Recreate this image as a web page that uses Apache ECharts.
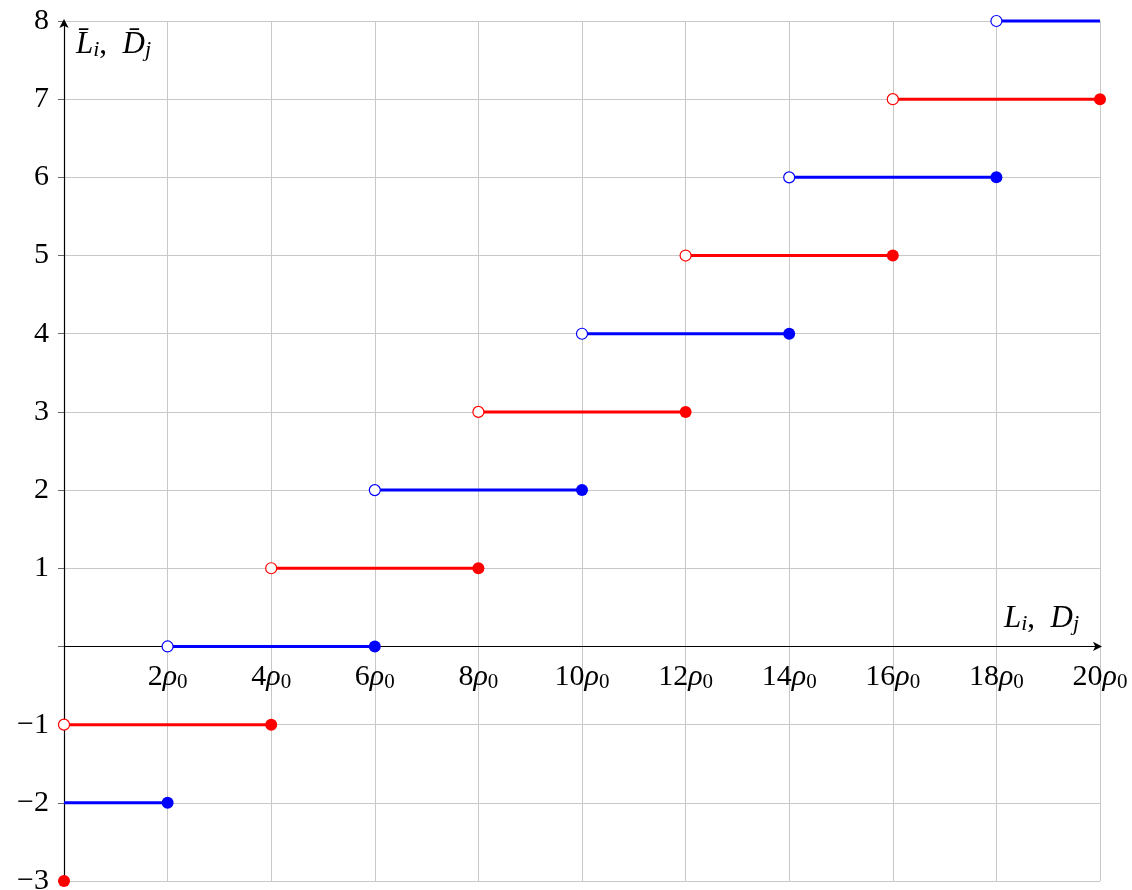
<!DOCTYPE html>
<html>
<head>
<meta charset="utf-8">
<script src="https://cdn.jsdelivr.net/npm/echarts@6/dist/echarts.min.js"></script>
<style>
  html, body { margin: 0; padding: 0; background: #fff; }
  #chart { width: 1132px; height: 890px; }
</style>
</head>
<body>
<div id="chart"></div>
<script>
// 数据：水平线段（红 / 蓝），端点
var redLevels = [-1, 1, 3, 5, 7];
var redFrom = [0, 4, 8, 12, 16];
var redTo = [4, 8, 12, 16, 20];
var blueLevels = [-2, 0, 2, 4, 6, 8];
var blueFrom = [0, 2, 6, 10, 14, 18];
var blueTo = [2, 6, 10, 14, 18, 20];
var redOpen = [[0, -1], [4, 1], [8, 3], [12, 5], [16, 7]];
var redClosed = [[0, -3], [4, -1], [8, 1], [12, 3], [16, 5], [20, 7]];
var blueOpen = [[2, 0], [6, 2], [10, 4], [14, 6], [18, 8]];
var blueClosed = [[2, -2], [6, 0], [10, 2], [14, 4], [18, 6]];
var xTicks = [2, 4, 6, 8, 10, 12, 14, 16, 18, 20];

var RED = "#ff0000";
var BLUE = "#0000ff";
var FONT = "Liberation Serif";

function segSeries(levels, from, to, color) {
    var out = [];
    for (var i = 0; i < levels.length; i++) {
        out.push({
            type: "line",
            data: [[from[i], levels[i]], [to[i], levels[i]]],
            symbol: "none",
            clip: false,
            lineStyle: { color: color, width: 3 },
            z: 3
        });
    }
    return out;
}

function dots(data, color, open) {
    return {
        type: "scatter",
        data: data,
        symbol: "circle",
        symbolSize: open ? 11 : 12,
        clip: false,
        itemStyle: open
            ? { color: "#fff", borderColor: color, borderWidth: 1.2, opacity: 1 }
            : { color: color, opacity: 1 },
        z: 5
    };
}

var series = []
    .concat(segSeries(redLevels, redFrom, redTo, RED))
    .concat(segSeries(blueLevels, blueFrom, blueTo, BLUE));
series.push(dots(redOpen, RED, true));
series.push(dots(redClosed, RED, false));
series.push(dots(blueOpen, BLUE, true));
series.push(dots(blueClosed, BLUE, false));

// x 轴刻度标签（跟随 y=0 的轴线）
series.push({
    type: "scatter",
    data: xTicks.map(function (v) { return [v, 0]; }),
    symbolSize: 0,
    clip: false,
    silent: true,
    z: 6,
    itemStyle: { opacity: 1, color: "#000" },
    label: {
        show: true,
        position: "bottom",
        distance: 14,
        color: "#000",
        opacity: 1,
        formatter: function (p) {
            return "{n|" + p.value[0] + "}{r|ρ}{s|0}";
        },
        rich: {
            n: { fontFamily: FONT, fontSize: 30, color: "#000" },
            r: { fontFamily: FONT, fontSize: 30, fontStyle: "italic", color: "#000" },
            s: { fontFamily: FONT, fontSize: 21, color: "#000", padding: [12, 0, 0, 0] }
        }
    }
});

var myChart = echarts.init(document.getElementById("chart"));
var option = {
    animation: false,
    grid: { left: 64, right: 32, top: 21, bottom: 9, outerBoundsMode: "none" },
    xAxis: {
        type: "value",
        min: 0,
        max: 20,
        interval: 2,
        axisLine: {
            onZero: true,
            lineStyle: { color: "#000", width: 1.2 },
            symbol: ["none", "arrow"],
            symbolSize: [7, 9],
            symbolOffset: [0, 2]
        },
        axisTick: { show: false },
        splitLine: { show: true, lineStyle: { color: "#c8c8c8", width: 1 } },
        axisLabel: { show: false }
    },
    yAxis: {
        type: "value",
        min: -3,
        max: 8,
        interval: 1,
        axisLine: {
            onZero: true,
            lineStyle: { color: "#000", width: 1.2 },
            symbol: ["none", "arrow"],
            symbolSize: [7, 9],
            symbolOffset: [0, 2]
        },
        axisTick: { show: true, length: 6, lineStyle: { color: "#666", width: 1 } },
        splitLine: { show: true, lineStyle: { color: "#c8c8c8", width: 1 } },
        axisLabel: {
            margin: 15,
            fontFamily: FONT,
            fontSize: 30,
            color: "#000",
            formatter: function (v) {
                if (v === 0) return "";
                return v < 0 ? "\u2212" + (-v) : String(v);
            }
        }
    },
    graphic: [
        {
            type: "text",
            left: 76,
            top: 29,
            style: {
                text: "{i|L\u0304}{s|i}{n|,  }{i|D\u0304}{s|j}",
                rich: {
                    i: { fontFamily: FONT, fontSize: 31, fontStyle: "italic", fill: "#000" },
                    n: { fontFamily: FONT, fontSize: 31, fill: "#000" },
                    s: { fontFamily: FONT, fontSize: 22, fontStyle: "italic", fill: "#000", padding: [12, 0, 0, 0] }
                }
            }
        },
        {
            type: "text",
            left: 1004,
            top: 603,
            style: {
                text: "{i|L}{s|i}{n|,  }{i|D}{s|j}",
                rich: {
                    i: { fontFamily: FONT, fontSize: 31, fontStyle: "italic", fill: "#000" },
                    n: { fontFamily: FONT, fontSize: 31, fill: "#000" },
                    s: { fontFamily: FONT, fontSize: 22, fontStyle: "italic", fill: "#000", padding: [12, 0, 0, 0] }
                }
            }
        }
    ],
    series: series
};
myChart.setOption(option);
</script>
</body>
</html>
